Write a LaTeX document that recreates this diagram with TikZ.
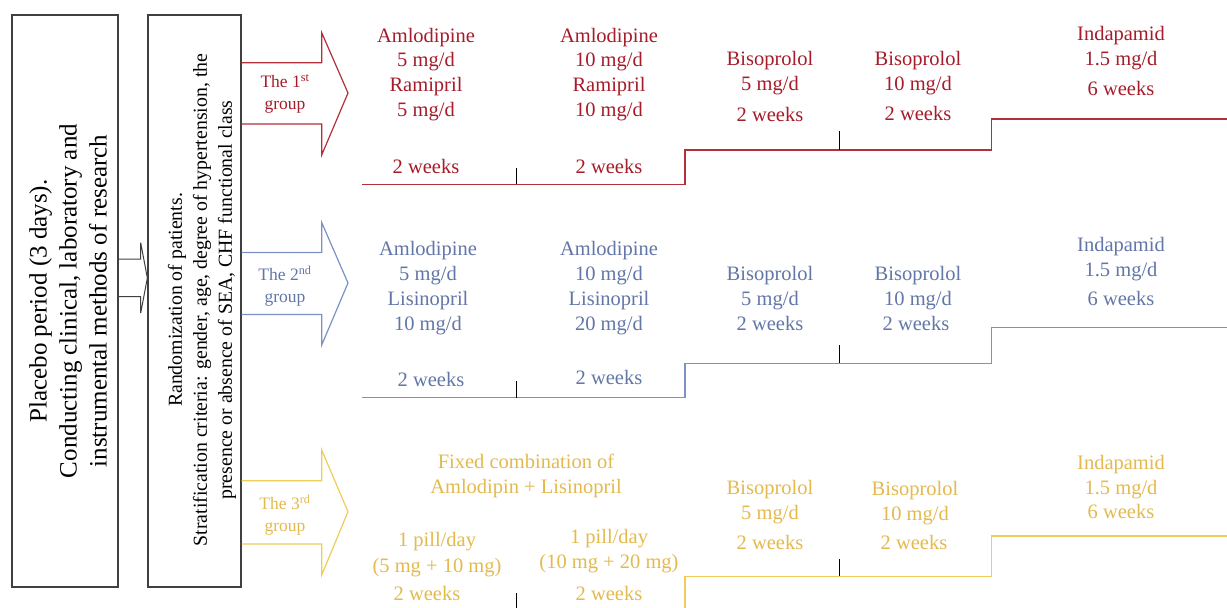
\documentclass[tikz,border=0pt]{standalone}
\usepackage{fontspec}
\setmainfont{Liberation Serif}
\definecolor{rtxt}{RGB}{165,28,42}
\definecolor{rln}{RGB}{178,48,58}
\definecolor{btxt}{RGB}{98,118,168}
\definecolor{bln}{RGB}{122,146,196}
\definecolor{ytxt}{RGB}{228,186,78}
\definecolor{yln}{RGB}{240,204,88}
\definecolor{boxc}{RGB}{64,64,64}
\tikzset{
  lbl/.style={inner sep=0pt, font=\fontsize{20.5}{25}\selectfont, text height=0.7em, text depth=0.2em, anchor=center, yshift=-5pt},
  glbl/.style={inner sep=0pt, font=\fontsize{17.5}{22}\selectfont, align=center, yshift=-2pt},
  bigbox/.style={draw=boxc, line width=1.3pt},
  garrow/.style={line width=1.2pt, line join=miter},
  stepline/.style={line width=1.3pt},
  tickmark/.style={draw=black, line width=1pt}
}
\begin{document}
\begin{tikzpicture}[x=1pt,y=-1pt]
\useasboundingbox (0,0) rectangle (1227,608);
\clip (0,0) rectangle (1227,608);
\fill[white] (0,0) rectangle (1227,608);

% boxes
\node[bigbox, minimum width=106pt, minimum height=572pt, inner sep=0] (placebo) at (65,301) {};
\node[bigbox, minimum width=93pt, minimum height=572pt, inner sep=0] (random) at (194.5,301) {};
\node[rotate=90, inner sep=0, align=center, font=\fontsize{25}{30}\selectfont] (placebotxt) at (68,301)
  {Placebo period (3 days).\\Conducting clinical, laboratory and\\instrumental methods of research};
\node[rotate=90, inner sep=0, align=center, font=\fontsize{19.8}{25}\selectfont] (randomtxt) at (202,300)
  {Randomization of patients.\\Stratification criteria: gender, age, degree of hypertension, the\\presence or absence of SEA, CHF functional class};

% arrow between boxes
\draw[draw=boxc, line width=1pt, line join=miter] (placebo.east |- 0,259) -- (140.7,259) -- (140.7,242.7) -- (random.west |- 0,278) -- (140.7,313) -- (140.7,296.7) -- (placebo.east |- 0,296.7);

% group arrows
\draw[garrow, draw=rln] (random.east |- 0,62.7) -- (321.7,62.7) -- (321.7,32.7) -- (348,93) -- (321.7,155) -- (321.7,124) -- (random.east |- 0,124);
\draw[garrow, draw=bln] (random.east |- 0,252.5) -- (321.7,252.5) -- (321.7,222.5) -- (348,283) -- (321.7,345) -- (321.7,314.5) -- (random.east |- 0,314.5);
\draw[garrow, draw=yln] (random.east |- 0,480.7) -- (321.7,480.7) -- (321.7,450) -- (348,511.7) -- (321.7,575) -- (321.7,544) -- (random.east |- 0,544);
\node[glbl, text=rtxt] (g1) at (285,92) {The 1\textsuperscript{st}\\group};
\node[glbl, text=btxt] (g2) at (285,284) {The 2\textsuperscript{nd}\\group};
\node[glbl, text=ytxt] (g3) at (285,513) {The 3\textsuperscript{rd}\\group};

% step lines
\draw[stepline, draw=rln] (362,184.3) -- (685,184.3) -- (685,150) -- (991.5,150) -- (991.5,119) -- (1228,119);
\draw[stepline, draw=bln] (362,397.7) -- (685,397.7) -- (685,363.3) -- (991.5,363.3) -- (991.5,327.3) -- (1228,327.3);
\draw[stepline, draw=yln] (362,612) -- (685,612) -- (685,576.3) -- (991.5,576.3) -- (991.5,536) -- (1228,536);
% ticks
\draw[tickmark] (516,168) -- (516,184.3);
\draw[tickmark] (839,131) -- (839,150);
\draw[tickmark] (516,381) -- (516,397.7);
\draw[tickmark] (839,345) -- (839,363.3);
\draw[tickmark] (516,593) -- (516,612);
\draw[tickmark] (839,559) -- (839,576.3);

% red group texts
\begin{scope}[every node/.style={lbl, text=rtxt}]
\node (r1a) at (426,35) {Amlodipine};
\node (r1b) at (426,59) {5 mg/d};
\node (r1c) at (426,84) {Ramipril};
\node (r1d) at (426,109) {5 mg/d};
\node (r1e) at (426,166) {2 weeks};
\node (r2a) at (609,35) {Amlodipine};
\node (r2b) at (609,59) {10 mg/d};
\node (r2c) at (609,84) {Ramipril};
\node (r2d) at (609,109) {10 mg/d};
\node (r2e) at (609,166) {2 weeks};
\node (r3a) at (770,58) {Bisoprolol};
\node (r3b) at (770,83) {5 mg/d};
\node (r3c) at (770,114) {2 weeks};
\node (r4a) at (918,58) {Bisoprolol};
\node (r4b) at (918,83) {10 mg/d};
\node (r4c) at (918,113) {2 weeks};
\node (r5a) at (1121,33) {Indapamid};
\node (r5b) at (1121,58) {1.5 mg/d};
\node (r5c) at (1121,88) {6 weeks};
\end{scope}

% blue group texts
\begin{scope}[every node/.style={lbl, text=btxt}]
\node (b1a) at (428,248) {Amlodipine};
\node (b1b) at (428,273) {5 mg/d};
\node (b1c) at (428,298) {Lisinopril};
\node (b1d) at (428,323) {10 mg/d};
\node (b1e) at (431,379) {2 weeks};
\node (b2a) at (609,248) {Amlodipine};
\node (b2b) at (609,273) {10 mg/d};
\node (b2c) at (609,298) {Lisinopril};
\node (b2d) at (609,323) {20 mg/d};
\node (b2e) at (609,377) {2 weeks};
\node (b3a) at (770,273) {Bisoprolol};
\node (b3b) at (770,298) {5 mg/d};
\node (b3c) at (770,323) {2 weeks};
\node (b4a) at (918,273) {Bisoprolol};
\node (b4b) at (918,298) {10 mg/d};
\node (b4c) at (916,323) {2 weeks};
\node (b5a) at (1121,244) {Indapamid};
\node (b5b) at (1121,269) {1.5 mg/d};
\node (b5c) at (1121,298) {6 weeks};
\end{scope}

% yellow group texts
\begin{scope}[every node/.style={lbl, text=ytxt}]
\node (y0a) at (526,461) {Fixed combination of};
\node (y0b) at (526,486) {Amlodipin + Lisinopril};
\node (y1a) at (437,539) {1 pill/day};
\node (y1b) at (437,565) {(5 mg + 10 mg)};
\node (y1c) at (427,593) {2 weeks};
\node (y2a) at (609,536) {1 pill/day};
\node (y2b) at (609,561) {(10 mg + 20 mg)};
\node (y2c) at (609,593) {2 weeks};
\node (y3a) at (770,487) {Bisoprolol};
\node (y3b) at (770,512) {5 mg/d};
\node (y3c) at (770,542) {2 weeks};
\node (y4a) at (915,488) {Bisoprolol};
\node (y4b) at (915,513) {10 mg/d};
\node (y4c) at (914,542) {2 weeks};
\node (y5a) at (1121,462) {Indapamid};
\node (y5b) at (1121,487) {1.5 mg/d};
\node (y5c) at (1121,511) {6 weeks};
\end{scope}
\end{tikzpicture}
\end{document}
